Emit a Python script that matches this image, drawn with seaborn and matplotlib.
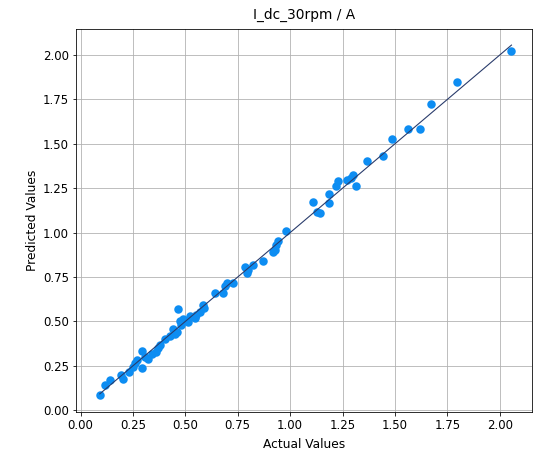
"""
plot.py — predicted vs actual scatter for I_dc_30rpm.
"""
import matplotlib
matplotlib.use("Agg")  # headless backend
import matplotlib.pyplot as plt
import numpy as np
import pandas as pd
import seaborn as sns

# values
actual = [
    0.092, 0.116, 0.140, 0.191, 0.203, 0.232, 0.251, 0.262, 0.271, 0.291,
    0.291, 0.307, 0.323, 0.339, 0.362, 0.370, 0.378, 0.402, 0.426, 0.442,
    0.450, 0.458, 0.466, 0.474, 0.480, 0.490, 0.513, 0.521, 0.545, 0.553,
    0.569, 0.585, 0.588, 0.641, 0.681, 0.690, 0.697, 0.728, 0.784, 0.792,
    0.800, 0.824, 0.871, 0.916, 0.927, 0.935, 0.940, 0.980, 1.107, 1.126,
    1.142, 1.186, 1.186, 1.218, 1.229, 1.269, 1.290, 1.301, 1.313, 1.367,
    1.444, 1.488, 1.563, 1.622, 1.671, 1.794, 2.056,
]
predicted = [
    0.083, 0.143, 0.172, 0.199, 0.175, 0.218, 0.245, 0.265, 0.283, 0.237,
    0.331, 0.300, 0.290, 0.319, 0.328, 0.350, 0.365, 0.403, 0.418, 0.459,
    0.430, 0.442, 0.570, 0.505, 0.478, 0.514, 0.496, 0.533, 0.520, 0.535,
    0.552, 0.593, 0.575, 0.662, 0.660, 0.700, 0.718, 0.718, 0.808, 0.775,
    0.790, 0.820, 0.843, 0.893, 0.905, 0.930, 0.955, 1.010, 1.170, 1.117,
    1.108, 1.166, 1.220, 1.262, 1.290, 1.298, 1.305, 1.325, 1.262, 1.405,
    1.434, 1.528, 1.586, 1.586, 1.722, 1.849, 2.024,
]
title = "I_dc_30rpm / A"

df = pd.DataFrame({"actual": actual, "predicted": predicted})
lo, hi = df["actual"].min(), df["actual"].max()
ideal = pd.DataFrame({"x": [lo, hi], "y": [lo, hi]})

fig, ax = plt.subplots(figsize=(546 / 72, 454 / 72), dpi=72)
fig.subplots_adjust(left=0.139, right=0.974, bottom=0.0925, top=0.9355)

sns.scatterplot(data=df, x="actual", y="predicted", color="#0d8df2",
                s=72, linewidth=0, ax=ax, zorder=3)
sns.lineplot(data=ideal, x="x", y="y", color="#293b6b", lw=1.1, ax=ax, zorder=4)

ax.set_xticks(np.arange(0, 2.01, 0.25))
ax.set_yticks(np.arange(0, 2.01, 0.25))
ax.set_xlim(-0.022, 2.153)
ax.set_ylim(-0.01, 2.145)
ax.tick_params(labelsize=11.7)
ax.grid(True, zorder=0)
ax.set_axisbelow(True)
ax.set_xlabel("Actual Values", fontsize=12.3, labelpad=6)
ax.set_ylabel("Predicted Values", fontsize=12.3)
ax.set_title(title, fontsize=13.7, pad=10)

fig.savefig("out.png", dpi=72)
plt.close(fig)
